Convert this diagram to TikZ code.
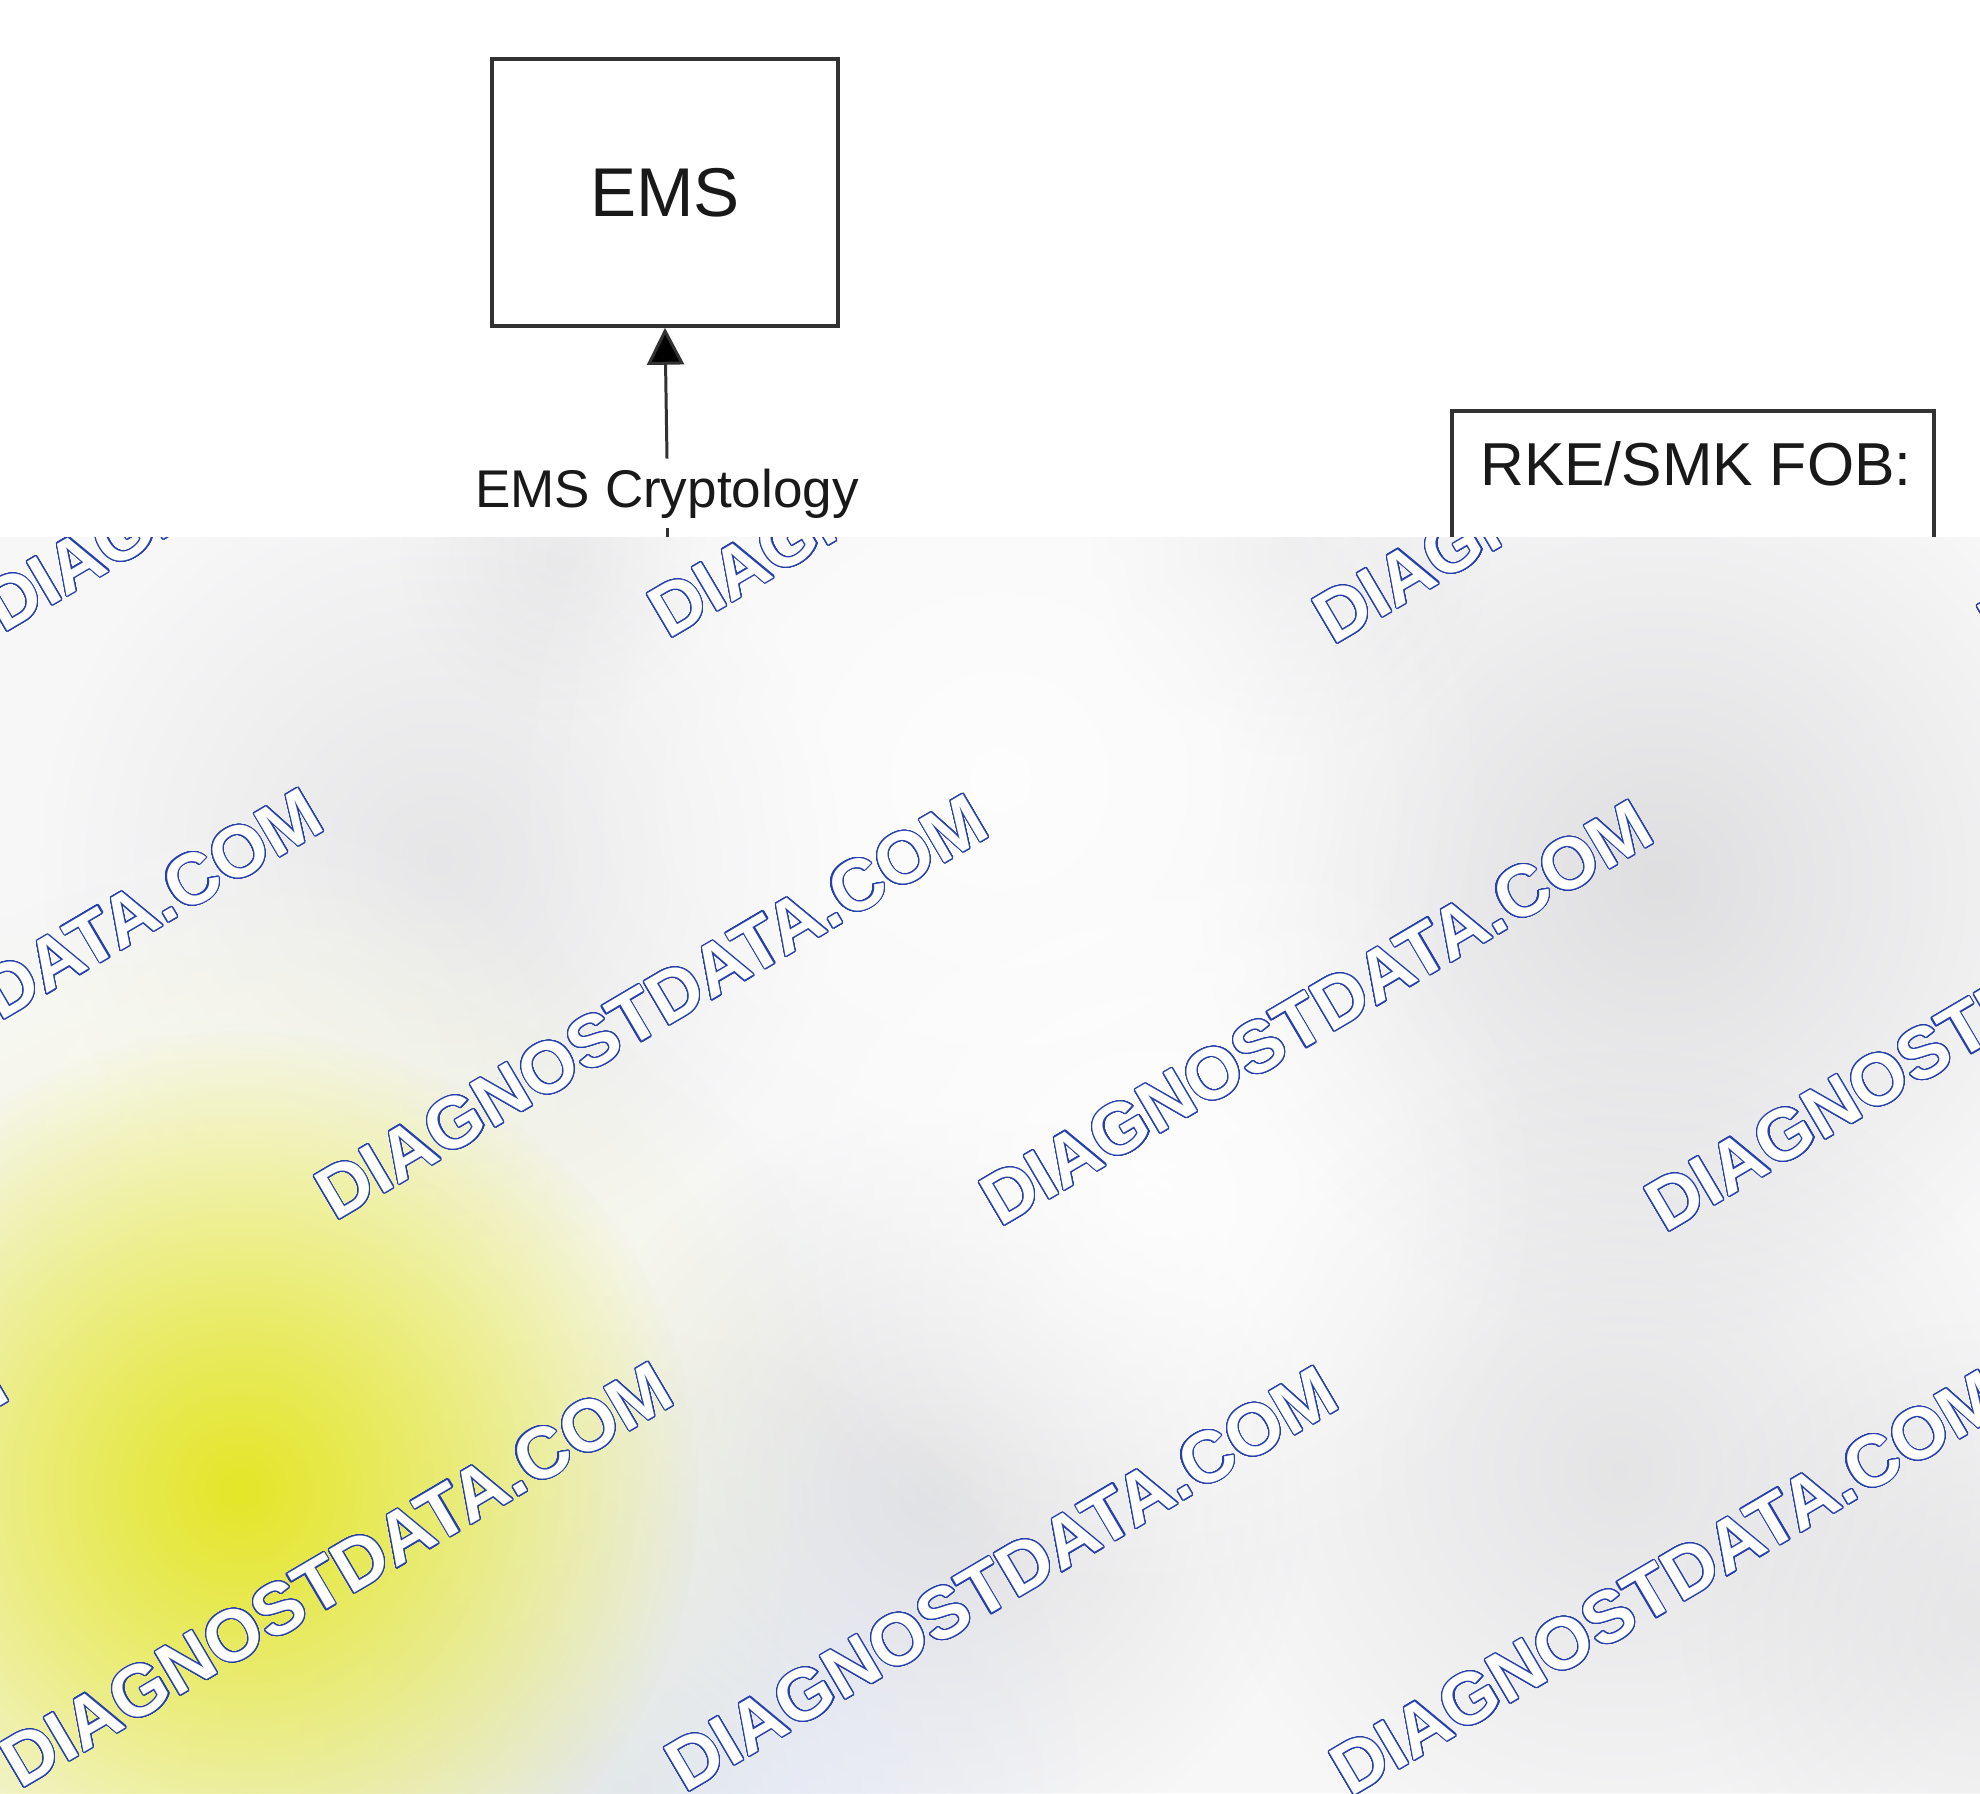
\documentclass[tikz,border=0pt]{standalone}
\usepackage{fontspec}
\setmainfont{Liberation Sans}
\usepackage{contour}
\usetikzlibrary{arrows.meta,fadings}
\definecolor{ink}{RGB}{25,25,25}
\definecolor{edge}{RGB}{50,50,50}
\definecolor{wmblue}{RGB}{38,64,172}
\definecolor{blurbg}{RGB}{247,247,248}
\definecolor{blobgray}{RGB}{210,210,212}
\definecolor{blobyellow}{RGB}{228,230,40}
\definecolor{paleyellow}{RGB}{240,242,190}
\definecolor{blobblue}{RGB}{222,228,244}
\tikzfading[name=softblob, inner color=transparent!0, outer color=transparent!100]
\contourlength{0.65pt}
\contournumber{32}
\begin{document}
\begin{tikzpicture}[x=0.02cm,y=-0.02cm,
  box/.style={draw=edge, line width=2.1pt, fill=white, inner sep=0pt},
  conn/.style={draw=edge, line width=1.7pt},
  arr/.style={conn, -{Triangle[length=21pt,width=21pt,fill=black]}},
  lbl/.style={text=ink, inner xsep=0pt},
  wm/.style={text=white, inner sep=0pt, anchor=base west, rotate=30.5,
    font=\bfseries\fontsize{41.3}{48}\selectfont}]
\useasboundingbox (0,0) rectangle (1980,1793);
\fill[white] (0,0) rectangle (1980,1793);

% diagram (upper, visible part)
\node[box, minimum width=6.92cm, minimum height=5.34cm,
  font=\fontsize{39.3}{46}\selectfont, text=ink] (ems) at (665,192.5) {EMS};
\node[lbl, anchor=base, text height=0.76cm, text depth=0.22cm, inner ysep=0.2cm,
  font=\fontsize{30.2}{36}\selectfont] (crypto) at (667,507) {EMS Cryptology};
\coordinate (stubend) at (667,640);
\draw[arr] (crypto.north) -- (ems.south);
\draw[conn] (crypto.south) -- (stubend);

\node[box, anchor=north west, minimum width=9.64cm, minimum height=8cm] (fob) at (1450,409) {};
\node[lbl, anchor=base west, font=\fontsize{34.5}{40}\selectfont] (fobtext) at (1480,485) {RKE/SMK FOB:};

% blurred lower region
\begin{scope}
\clip (0,537) rectangle (1980,1793);
\fill[blurbg] (0,537) rectangle (1980,1793);
\fill[blobgray, path fading=softblob, opacity=0.45] (440,860) circle (400);
\fill[blobgray, path fading=softblob, opacity=0.65] (1660,880) circle (460);
\fill[blobgray, path fading=softblob, opacity=0.6] (935,1490) circle (380);
\fill[blobgray, path fading=softblob, opacity=0.5] (1620,1470) circle (420);
\fill[blobgray, path fading=softblob, opacity=0.4] (1980,1620) circle (300);
\fill[blobgray, path fading=softblob, opacity=0.3] (560,560) circle (160);
\fill[blobgray, path fading=softblob, opacity=0.3] (1290,555) circle (200);
\fill[white, path fading=softblob, opacity=0.8] (1000,780) circle (500);
\fill[white, path fading=softblob, opacity=0.8] (1150,1200) circle (400);
\fill[white, path fading=softblob, opacity=0.6] (250,1150) circle (350);
\fill[blobblue, path fading=softblob, opacity=0.9] (620,1790) circle (460);
\fill[paleyellow, path fading=softblob, opacity=0.8] (240,1490) circle (620);
\fill[blobyellow, path fading=softblob] (240,1490) circle (460);
% watermarks
\foreach \k in {0,1,2,3}{
  \node[wm] (wma\k) at ({3+665*\k},{634+6*\k}) {\contour{wmblue}{DIAGNOSTDATA.COM}};
  \node[wm] (wmb\k) at ({-330+665*\k},{1216+6*\k}) {\contour{wmblue}{DIAGNOSTDATA.COM}};
  \node[wm] (wmc\k) at ({-645+665*\k},{1786+4*\k}) {\contour{wmblue}{DIAGNOSTDATA.COM}};
}
\end{scope}
\end{tikzpicture}
\end{document}
